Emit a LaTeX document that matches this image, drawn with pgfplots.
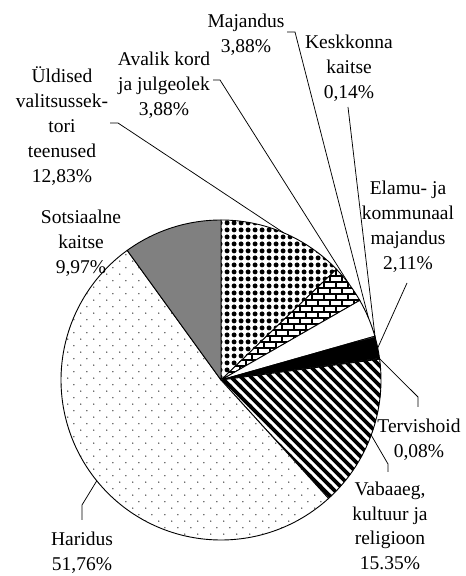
\documentclass[border=0pt]{standalone}
\usepackage{fontspec}
\setmainfont{Liberation Serif}
\usepackage{pgfplots}
\pgfplotsset{compat=1.18}
\usetikzlibrary{patterns,calc}

\pgfdeclarepatternformonly{circgrid}{\pgfqpoint{0pt}{0pt}}{\pgfqpoint{7pt}{7pt}}{\pgfqpoint{7pt}{7pt}}{%
 \pgfpathcircle{\pgfqpoint{3.5pt}{3.5pt}}{2.8pt}\pgfusepath{fill}}

\pgfdeclarepatternformonly{mybricks}{\pgfqpoint{-1pt}{-1pt}}{\pgfqpoint{13pt}{13pt}}{\pgfqpoint{12pt}{12pt}}{%
 \pgfsetlinewidth{1.2pt}%
 \pgfpathmoveto{\pgfqpoint{-1pt}{0pt}}\pgfpathlineto{\pgfqpoint{13pt}{0pt}}%
 \pgfpathmoveto{\pgfqpoint{-1pt}{6pt}}\pgfpathlineto{\pgfqpoint{13pt}{6pt}}%
 \pgfpathmoveto{\pgfqpoint{-1pt}{12pt}}\pgfpathlineto{\pgfqpoint{13pt}{12pt}}%
 \pgfpathmoveto{\pgfqpoint{0pt}{0pt}}\pgfpathlineto{\pgfqpoint{0pt}{6pt}}%
 \pgfpathmoveto{\pgfqpoint{12pt}{0pt}}\pgfpathlineto{\pgfqpoint{12pt}{6pt}}%
 \pgfpathmoveto{\pgfqpoint{6pt}{6pt}}\pgfpathlineto{\pgfqpoint{6pt}{12pt}}%
 \pgfusepath{stroke}}

\pgfdeclarepatternformonly{mystripes}{\pgfqpoint{-1pt}{-1pt}}{\pgfqpoint{11pt}{11pt}}{\pgfqpoint{10pt}{10pt}}{%
 \pgfsetlinewidth{3.6pt}%
 \pgfpathmoveto{\pgfqpoint{-1pt}{11pt}}\pgfpathlineto{\pgfqpoint{11pt}{-1pt}}%
 \pgfpathmoveto{\pgfqpoint{-1pt}{1pt}}\pgfpathlineto{\pgfqpoint{1pt}{-1pt}}%
 \pgfpathmoveto{\pgfqpoint{9pt}{11pt}}\pgfpathlineto{\pgfqpoint{11pt}{9pt}}%
 \pgfusepath{stroke}}

\pgfdeclarepatternformonly{sparsedots}{\pgfqpoint{0pt}{0pt}}{\pgfqpoint{13pt}{13.4pt}}{\pgfqpoint{13pt}{13.4pt}}{%
 \pgfpathcircle{\pgfqpoint{3pt}{3pt}}{0.8pt}%
 \pgfpathcircle{\pgfqpoint{9.5pt}{9.7pt}}{0.8pt}%
 \pgfusepath{fill}}

% \slice{cumulative percent before}{percent}{style}
\newcommand\slice[3]{%
 \pgfmathsetmacro\sa{90-3.6*#1}%
 \pgfmathsetmacro\sb{90-3.6*(#1+#2)}%
 \edef\tmp{\noexpand\filldraw[line width=0.9pt,draw=black,\unexpanded{#3}] (axis cs:221,196) -- ++(\sa:160pt) arc[start angle=\sa, end angle=\sb, radius=160pt] -- cycle;}%
 \tmp}

\begin{document}
\begin{tikzpicture}
\begin{axis}[width=466pt,height=576pt,scale only axis,
  xmin=0,xmax=466,ymin=0,ymax=576,hide axis,clip=false]
\path (axis cs:0,0) rectangle (axis cs:466,576);
% percentages (cumulative start, share)
\slice{0}{12.83}{preaction={fill=white},pattern=circgrid}
\slice{12.83}{3.88}{preaction={fill=white},pattern=mybricks}
\slice{16.71}{3.88}{fill=white}
\slice{20.59}{0.14}{fill=white}
\slice{20.73}{2.11}{fill=black}
\slice{22.84}{0.08}{fill=white}
\slice{22.92}{15.35}{preaction={fill=white},pattern=mystripes}
\slice{38.27}{51.76}{preaction={fill=white},pattern=sparsedots,pattern color=black!75}
\slice{90.03}{9.97}{fill=black!50}

% leader lines
\begin{scope}[line width=0.75pt]
\draw (axis cs:287,544) -- (axis cs:295,544) -- ($(axis cs:221,196)+(22.86:160pt)$);
\draw (axis cs:213,496) -- (axis cs:220,496) -- ($(axis cs:221,196)+(36.83:160pt)$);
\draw (axis cs:110,453) -- (axis cs:118,453) -- ($(axis cs:221,196)+(66.91:160pt)$);
\draw (axis cs:348,469) -- ($(axis cs:221,196)+(15.62:160pt)$);
\draw (axis cs:407,293) -- ($(axis cs:221,196)+(11.57:160pt)$);
\draw (axis cs:418,169) -- (axis cs:418,179) -- ($(axis cs:221,196)+(7.63:160pt)$);
\draw (axis cs:388,104) -- (axis cs:388,112) -- ($(axis cs:221,196)+(-20.15:160pt)$);
\draw (axis cs:82,56) -- (axis cs:82,71) -- ($(axis cs:221,196)+(-140.94:160pt)$);
\end{scope}

% labels
\begin{scope}[every node/.style={align=center,inner sep=0pt,font=\fontsize{19.5}{25}\selectfont}]
\node at (axis cs:246,541) {Majandus\\3,88\%};
\node at (axis cs:164,491) {Avalik kord\\ja julgeolek\\3,88\%};
\node at (axis cs:62,450) {Üldised\\valitsussek-\\tori\\teenused\\12,83\%};
\node at (axis cs:349,508) {Keskkonna\\kaitse\\0,14\%};
\node at (axis cs:408,349) {Elamu- ja\\kommunaal\\majandus\\2,11\%};
\node at (axis cs:419,136) {Tervishoid\\0,08\%};
\node[font=\fontsize{19.5}{24.5}\selectfont] at (axis cs:390,50) {Vabaaeg,\\kultuur ja\\religioon\\15.35\%};
\node at (axis cs:82,23) {Haridus\\51,76\%};
\node at (axis cs:81,333) {Sotsiaalne\\kaitse\\9,97\%};
\end{scope}
\end{axis}
\end{tikzpicture}
\end{document}
